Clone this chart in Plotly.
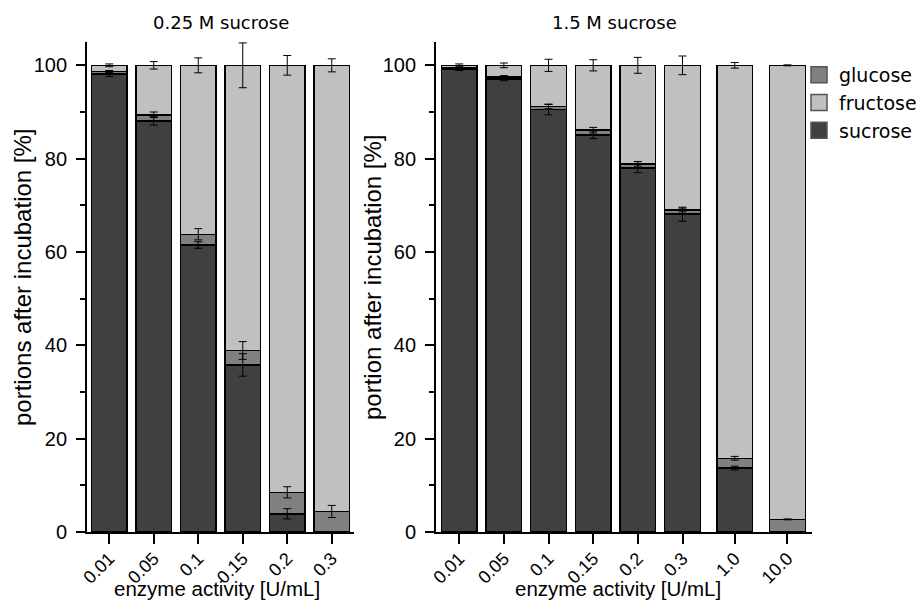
import numpy as np
import plotly.graph_objects as go

# ---------------- data ----------------
conc_L = ["0.01", "0.05", "0.1", "0.15", "0.2", "0.3"]
sucrose_L = [98.1, 88.1, 61.5, 35.8, 3.9, 0.0]
glucose_L = [0.6, 1.3, 2.3, 3.1, 4.6, 4.4]
fructose_L = [1.3, 10.6, 36.2, 61.1, 91.5, 95.6]
sucrose_err_L = [0.5, 0.9, 0.7, 2.4, 1.1, 0.0]
glucose_err_L = [0.2, 0.6, 1.2, 1.9, 1.2, 1.3]
fructose_err_L = [0.3, 0.8, 1.6, 4.8, 2.1, 1.4]

conc_R = ["0.01", "0.05", "0.1", "0.15", "0.2", "0.3", "1.0", "10.0"]
sucrose_R = [99.2, 97.1, 90.5, 85.1, 78.0, 68.1, 13.7, 0.0]
glucose_R = [0.2, 0.4, 0.7, 1.0, 0.9, 0.9, 2.1, 2.7]
fructose_R = [0.6, 2.5, 8.8, 13.9, 21.1, 31.0, 84.2, 97.3]
sucrose_err_R = [0.3, 0.4, 1.1, 0.8, 1.0, 1.5, 0.4, 0.0]
glucose_err_R = [0.2, 0.3, 0.5, 0.6, 0.5, 0.4, 0.4, 0.1]
fructose_err_R = [0.3, 0.5, 1.3, 1.2, 1.7, 2.0, 0.6, 0.1]

# bar positions on the numeric axis (layout)
pos_L = [0, 1, 2, 3, 4, 5]
pos_R = [0, 1, 2, 3, 4, 5, 6.17, 7.35]

# ---------------- style ----------------
C_SUC = "#404040"
C_GLC = "#808080"
C_FRU = "#c0c0c0"
ARIAL = "Liberation Sans, Arial"
YTICKFONT = dict(family=ARIAL, size=20, color="black")
XTICKFONT = dict(family=ARIAL, size=18, color="black")
W, H = 919, 602

fig = go.Figure()


def add_panel(xa, ya, pos, suc, glc, fru, e_suc, e_glc, e_fru):
    series = [(suc, C_SUC, "sucrose"), (glc, C_GLC, "glucose"), (fru, C_FRU, "fructose")]
    for vals, col, name in series:
        fig.add_trace(go.Bar(
            x=pos, y=vals, name=name, marker=dict(color=col, line=dict(color="black", width=1.5)),
            width=0.8, xaxis=xa, yaxis=ya, showlegend=False))
    s = np.array(suc)
    g = np.array(glc)
    f = np.array(fru)
    tops = [(s, e_suc), (s + g, e_glc), (s + g + f, e_fru)]
    for yv, ev in tops:
        fig.add_trace(go.Scatter(
            x=pos, y=yv, mode="markers", marker=dict(opacity=0, size=1),
            error_y=dict(type="data", array=ev, visible=True, color="black", thickness=1, width=4),
            xaxis=xa, yaxis=ya, showlegend=False, hoverinfo="skip"))


add_panel("x", "y", pos_L, sucrose_L, glucose_L, fructose_L, sucrose_err_L, glucose_err_L, fructose_err_L)
add_panel("x2", "y2", pos_R, sucrose_R, glucose_R, fructose_R, sucrose_err_R, glucose_err_R, fructose_err_R)

# legend entries
for name, col in [("glucose", C_GLC), ("fructose", C_FRU), ("sucrose", C_SUC)]:
    fig.add_trace(go.Scatter(
        x=[None], y=[None], mode="markers", name=name,
        marker=dict(symbol="square", size=16, color=col, line=dict(color="#555555", width=1.5)),
        xaxis="x2", yaxis="y2", showlegend=True))

ydom = [1 - 532 / H, 1 - 42 / H]


def xaxis(domain, pos, labels, rng, anchor):
    return dict(domain=domain, anchor=anchor, range=rng, tickmode="array", tickvals=pos, ticktext=labels,
                tickangle=-45, ticks="outside", ticklen=10, tickwidth=1.8, tickcolor="black",
                showline=True, linecolor="black", linewidth=1.8, showgrid=False, zeroline=False,
                tickfont=XTICKFONT, automargin=False)


def yaxis(anchor):
    return dict(domain=ydom, anchor=anchor, range=[0, 105], tickvals=[0, 20, 40, 60, 80, 100],
                ticks="outside", ticklen=9, tickwidth=1.8, tickcolor="black",
                minor=dict(tickvals=[10, 30, 50, 70, 90], ticks="outside", ticklen=5, tickwidth=1.5, tickcolor="black"),
                showline=True, linecolor="black", linewidth=1.8, showgrid=False, zeroline=False,
                tickfont=YTICKFONT, automargin=False)


fig.update_layout(
    template="none",
    width=W, height=H, margin=dict(l=0, r=0, t=0, b=0, autoexpand=False),
    paper_bgcolor="white", plot_bgcolor="white",
    barmode="stack", bargap=0.2,
    xaxis=xaxis([87 / W, 354 / W], pos_L, conc_L, [-0.5, 5.5], "y"),
    yaxis=yaxis("x"),
    xaxis2=xaxis([436 / W, 812 / W], pos_R, conc_R, [-0.52, 7.9], "y2"),
    yaxis2=yaxis("x2"),
    legend=dict(x=799 / W, y=1 - 56 / H, xanchor="left", yanchor="top", bgcolor="rgba(0,0,0,0)",
                borderwidth=0,
                font=dict(family="DejaVu Sans", size=19, color="black"), traceorder="normal",
                itemwidth=30, tracegroupgap=0),
    showlegend=True,
)

# tick label placement tweaks
try:
    fig.update_yaxes(ticklabelstandoff=5)
except Exception:
    pass
try:
    fig.update_xaxes(ticklabelstandoff=-3)
except Exception:
    pass


def label(text, x, y, size, family=ARIAL, angle=0):
    return dict(text=text, x=x / W, y=1 - y / H, xref="paper", yref="paper", xanchor="center",
                yanchor="middle", textangle=angle, showarrow=False,
                font=dict(family=family, size=size, color="black"))


ann = [
    label("0.25 M sucrose", 221, 22, 18, "DejaVu Sans"),
    label("1.5 M sucrose", 614, 22, 18, "DejaVu Sans"),
    label("portions after incubation [%]", 22, 277, 24, angle=-90),
    label("portion after incubation [%]", 372, 277, 24, angle=-90),
    label("enzyme activity [U/mL]", 217, 588, 20.5),
    label("enzyme activity [U/mL]", 618, 588, 20.5),
]
fig.update_layout(annotations=ann)

fig.write_html("out.html")
